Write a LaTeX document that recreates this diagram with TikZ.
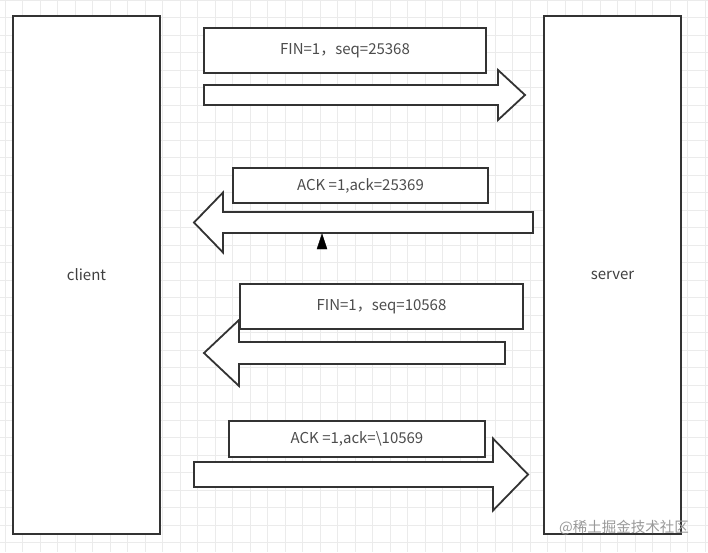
\documentclass[tikz,border=0pt]{standalone}
\usepackage{fontspec}
\setmainfont{Noto Sans CJK SC}
\usepackage{tikz}
\tikzset{
  gridline/.style={draw=black!8, line width=0.6pt},
  hostbox/.style={draw=black!80, line width=1.8pt, fill=white, font=\fontsize{15}{17}\selectfont, text=black!75},
  msgbox/.style={draw=black!80, line width=1.8pt, fill=white, font=\fontsize{15}{17}\selectfont, text=black!70},
  blockarr/.style={draw=black!80, line width=1.8pt, fill=white, line join=miter},
  marker/.style={fill=black, draw=black, line width=0.4pt},
  wmark/.style={text=black!40, font=\fontsize{14.5}{16}\selectfont},
}
% block arrow: tail x, head base x, tip x, centre y, half shaft, half head
\newcommand{\blockarrow}[6]{%
  \draw[blockarr] (#1,{#4-#5}) -- (#2,{#4-#5}) -- (#2,{#4-#6}) -- (#3,#4)
    -- (#2,{#4+#6}) -- (#2,{#4+#5}) -- (#1,{#4+#5}) -- cycle;}

\begin{document}
\begin{tikzpicture}[x=1pt, y=-1pt]
\useasboundingbox (0,0) rectangle (708,552);
\fill[white] (0,0) rectangle (708,552);
\foreach \gx in {5,22.5,...,706} \draw[gridline] (\gx,0) -- (\gx,552);
\foreach \gy in {0,17.5,...,552} \draw[gridline] (0,\gy) -- (708,\gy);
\node[hostbox, minimum width=147pt, minimum height=518pt] (client) at (86.5,275) {client};
\node[hostbox, minimum width=137pt, minimum height=518pt] (server) at (612.5,275) {server};
\blockarrow{204}{498}{525}{95}{10}{25}
\blockarrow{533}{223}{194}{222.5}{10.5}{30}
\blockarrow{505}{239}{204}{353}{11}{33}
\blockarrow{194}{493}{528}{474.5}{12.5}{36}
\node[msgbox, minimum width=282pt, minimum height=45pt] (fin1) at (345,50.5) {FIN=1，seq=25368};
\node[msgbox, minimum width=255pt, minimum height=35pt] (ack1) at (360.5,185.5) {ACK =1,ack=25369};
\node[msgbox, minimum width=283pt, minimum height=45pt] (fin2) at (381.5,306.5) {FIN=1，seq=10568};
\node[msgbox, minimum width=256pt, minimum height=36pt] (ack2) at (357,439) {ACK =1,ack=\textbackslash10569};
\draw[marker] (322,234) -- (327,249) -- (317,249) -- cycle;
\node[wmark] (mark) at (624,528) {@稀土掘金技术社区};
\end{tikzpicture}
\end{document}
